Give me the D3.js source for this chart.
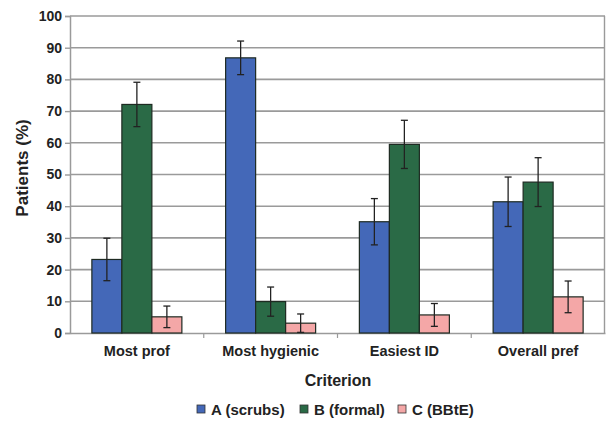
<!DOCTYPE html>
<html><head><meta charset="utf-8">
<script src="https://cdn.jsdelivr.net/npm/d3@7"></script>
<style>body{margin:0;background:#fff}svg{display:block}text{font-family:"Liberation Sans",Arial,sans-serif;font-weight:bold;fill:#222}</style>
</head><body><div id="c"></div>
<script>
const categories = ["Most prof", "Most hygienic", "Easiest ID", "Overall pref"];
const seriesNames = ["A (scrubs)", "B (formal)", "C (BBtE)"];
const seriesColors = ["#4468b8", "#2a6a46", "#f4a7a7"];
const valuesA = [23.2, 86.8, 35.1, 41.4];
const valuesB = [72.1, 9.9, 59.5, 47.6];
const valuesC = [5.1, 3.1, 5.7, 11.4];
const errA = [6.7, 5.3, 7.3, 7.8];
const errB = [7.0, 4.6, 7.6, 7.7];
const errC = [3.4, 2.9, 3.6, 5.0];
const yTicks = [0,10,20,30,40,50,60,70,80,90,100];

const W = 606, H = 426;
const m = {left:70, right:1, top:16, bottom:93};
const svg = d3.select("#c").append("svg").attr("width",W).attr("height",H);
const x0 = d3.scaleBand().domain(categories).range([m.left, W-m.right]).paddingInner(0).paddingOuter(0);
const x1 = d3.scaleBand().domain(seriesNames).range([0, 90]);
const y = d3.scaleLinear().domain([0,100]).range([H-m.bottom, m.top]);

// gridlines
svg.append("g").selectAll("line").data(yTicks.filter(d=>d>0)).join("line")
  .attr("x1", m.left).attr("x2", W-m.right).attr("y1", d=>y(d)).attr("y2", d=>y(d))
  .attr("stroke","#9a9a9a").attr("stroke-width",1.6);
// right border
svg.append("line").attr("x1",W-m.right-0.5).attr("x2",W-m.right-0.5).attr("y1",y(100)).attr("y2",y(0)).attr("stroke","#9a9a9a").attr("stroke-width",1.4);

// y axis
const ya = svg.append("g").attr("transform",`translate(${m.left},0)`)
  .call(d3.axisLeft(y).tickValues(yTicks).tickSize(5).tickPadding(3));
ya.select(".domain").attr("stroke","#9a9a9a").attr("stroke-width",1.5);
ya.selectAll(".tick line").attr("stroke","#9a9a9a").attr("stroke-width",1.4);
ya.selectAll(".tick text").attr("font-size",14).style("font-weight","bold").attr("fill","#222");

// x axis
const xa = svg.append("g").attr("transform",`translate(0,${y(0)})`)
  .call(d3.axisBottom(x0).tickSize(0).tickPadding(13));
xa.select(".domain").attr("stroke","#9a9a9a").attr("stroke-width",1.5);
xa.selectAll(".tick text").attr("font-size",14.5).style("font-weight","bold").attr("fill","#222");
// boundary ticks
svg.append("g").selectAll("line").data(categories.slice(1)).join("line")
  .attr("x1",d=>x0(d)).attr("x2",d=>x0(d)).attr("y1",y(0)).attr("y2",y(0)+5)
  .attr("stroke","#9a9a9a").attr("stroke-width",1.2);

const vals = [valuesA, valuesB, valuesC];
const errs = [errA, errB, errC];
const data = [];
categories.forEach((c,i)=>seriesNames.forEach((s,j)=>data.push({c, s, j, v:vals[j][i], e:errs[j][i]})));
const off = (x0.bandwidth()-90)/2;

svg.append("g").selectAll("rect").data(data).join("rect")
  .attr("x", d=>x0(d.c)+off+x1(d.s)).attr("width", x1.bandwidth())
  .attr("y", d=>y(d.v)).attr("height", d=>y(0)-y(d.v))
  .attr("fill", d=>seriesColors[d.j]).attr("stroke","#1e2a22").attr("stroke-width",1.2);

const eb = svg.append("g").attr("stroke","#222").attr("stroke-width",1.3);
data.forEach(d=>{
  const cx = x0(d.c)+off+x1(d.s)+x1.bandwidth()/2;
  eb.append("line").attr("x1",cx).attr("x2",cx).attr("y1",y(d.v+d.e)).attr("y2",y(Math.max(0,d.v-d.e)));
  [d.v+d.e, Math.max(0,d.v-d.e)].forEach(t=>eb.append("line").attr("x1",cx-3.5).attr("x2",cx+3.5).attr("y1",y(t)).attr("y2",y(t)));
});

// axis titles
svg.append("text").attr("transform",`translate(28,168) rotate(-90)`).attr("text-anchor","middle").attr("font-size",17).text("Patients (%)");
svg.append("text").attr("x",338).attr("y",386).attr("text-anchor","middle").attr("font-size",16).text("Criterion");

// legend
const legX = [197, 300, 398];
const lg = svg.append("g");
seriesNames.forEach((s,j)=>{
  lg.append("rect").attr("x",legX[j]).attr("y",405).attr("width",8).attr("height",8).attr("fill",seriesColors[j]).attr("stroke","#333").attr("stroke-width",0.8);
  lg.append("text").attr("x",legX[j]+14).attr("y",414.5).attr("font-size",15).text(s);
});
</script></body></html>
